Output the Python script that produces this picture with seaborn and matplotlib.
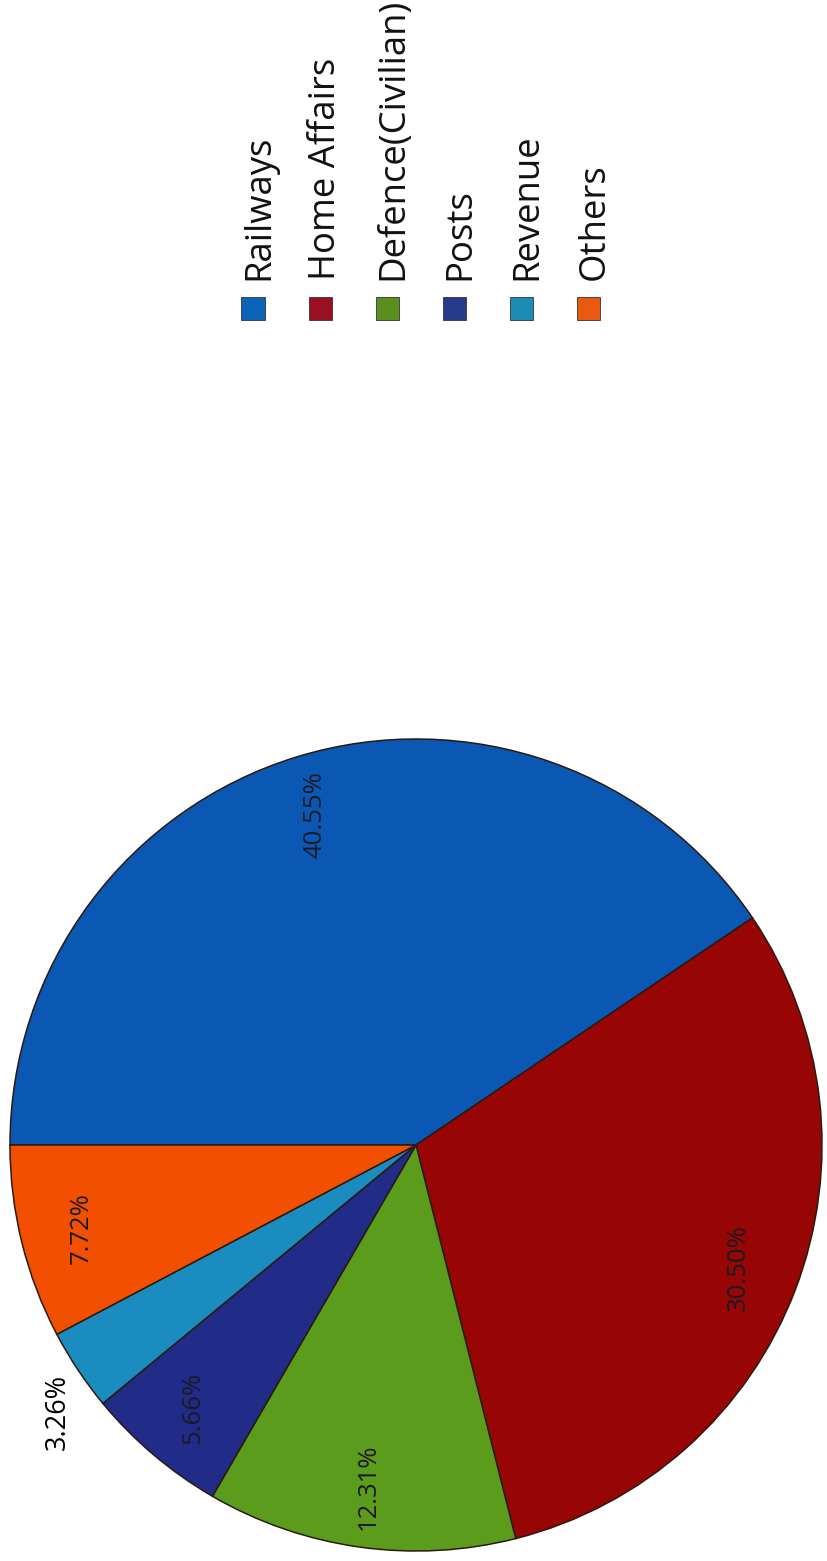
import numpy as np
import matplotlib
matplotlib.use("Agg")
import matplotlib.pyplot as plt
from matplotlib.patches import Rectangle
import seaborn as sns

# datos del grafico
departamentos = ["Railways", "Home Affairs", "Defence(Civilian)", "Posts", "Revenue", "Others"]
porcentajes = [40.55, 30.50, 12.31, 5.66, 3.26, 7.72]
colores = ["#0b57b4", "#980505", "#5b9c1c", "#212c88", "#1b8cc0", "#f25000"]
colores_leyenda = ["#0b63b8", "#9a1020", "#5a8f20", "#283a8a", "#1a8cb5", "#e85a10"]

sns.set_style("white")
plt.rcParams["font.family"] = ["Open Sans", "DejaVu Sans"]

W, H = 828, 1561
fig = plt.figure(figsize=(W / 100, H / 100), dpi=100)
fig.patch.set_facecolor("white")

# el grafico esta girado 90 grados: el centro del pastel queda en (416, 1145) px
cx, cy, r = 416, 1145, 406
ax = fig.add_axes([(cx - r) / W, (H - cy - r) / H, 2 * r / W, 2 * r / H])

wedges, textos, pcts = ax.pie(
    porcentajes,
    colors=colores,
    startangle=180,
    counterclock=False,
    autopct="%.2f%%",
    pctdistance=0.85,
    wedgeprops={"edgecolor": "#2a1a10", "linewidth": 1.1, "clip_on": False},
    textprops={"fontsize": 18.5, "color": "#1a1a26"},
)
ax.set_xlim(-1, 1)
ax.set_ylim(-1, 1)
ax.set_aspect("equal")
ax.axis("off")

for t in pcts:
    t.set_rotation(90)

# la etiqueta de Revenue va fuera del pastel
i_rev = departamentos.index("Revenue")
w = wedges[i_rev]
ang = np.deg2rad((w.theta1 + w.theta2) / 2 + 3)
pcts[i_rev].set_position((1.1 * np.cos(ang), 1.1 * np.sin(ang)))
pcts[i_rev].set_color("black")
pcts[i_rev].set_fontsize(19.5)

# leyenda girada (arriba)
x0, paso = 253, 67.1
for i, (nombre, col) in enumerate(zip(departamentos, colores_leyenda)):
    xc = x0 + paso * i
    lado = 23
    fig.patches.append(Rectangle(
        ((xc - lado / 2) / W, (H - 308 - lado / 2) / H), lado / W, lado / H,
        transform=fig.transFigure, facecolor=col, edgecolor="#333333", linewidth=0.6))
    fig.text((xc + 15) / W, (H - 279.5) / H, nombre, rotation=90,
             rotation_mode="anchor", ha="left", va="baseline",
             fontsize=26.3, color="#111111")

plt.savefig("out.png", dpi=100, facecolor="white")
